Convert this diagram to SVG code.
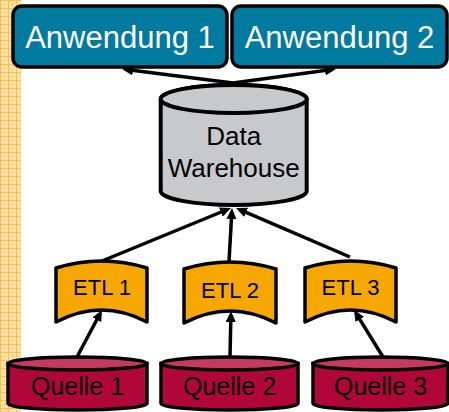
<svg xmlns="http://www.w3.org/2000/svg" width="449" height="412" viewBox="0 0 449 412">
<style>
.app{fill:#007a9e;stroke:#000;stroke-width:3.5}
.apptxt{font-family:"Liberation Sans",Arial,sans-serif;font-size:31px;fill:#fff;text-anchor:middle}
.dw{fill:#c7c9cc;stroke:#000;stroke-width:4}
.etl{fill:#f7a800;stroke:#000;stroke-width:3.5;stroke-linejoin:round}
.src{fill:#b1063a;stroke:#000;stroke-width:3.5}
.srctop{fill:#c43a62;stroke:#000;stroke-width:3.5}
.txt{font-family:"Liberation Sans",Arial,sans-serif;fill:#000;text-anchor:middle}
.conn line{stroke:#000;stroke-width:3.5;marker-end:url(#arr)}
</style>
<defs>
<marker id="arr" markerUnits="userSpaceOnUse" markerWidth="12" markerHeight="11" refX="7" refY="5" orient="auto">
<path d="M0,0 L11,5 L0,10 Z" fill="#000"/>
</marker>
<pattern id="grid" width="8" height="8" patternUnits="userSpaceOnUse">
<rect width="8" height="8" fill="#fde2a4"/>
<path d="M0,0.5 H8 M0.5,0 V8" stroke="#f5bd55" stroke-width="1"/>
<path d="M0,4.5 H8 M4.5,0 V8" stroke="#f9d27f" stroke-width="0.6"/>
</pattern>
</defs>
<rect x="0" y="0" width="21" height="412" fill="url(#grid)"/>

<g id="anwendung1">
<rect class="app" x="13" y="6" width="214" height="61" rx="9"/>
<text class="apptxt" x="120" y="48">Anwendung 1</text>
</g>
<g id="anwendung2">
<rect class="app" x="232" y="6" width="215" height="61" rx="9"/>
<text class="apptxt" x="339.5" y="48">Anwendung 2</text>
</g>

<g id="dw">
<path class="dw" d="M160.7,99 L160.7,191 A73,14 0 0 0 306.7,191 L306.7,99 A73,14 0 0 0 160.7,99 Z"/>
<ellipse class="dw" cx="233.7" cy="99" rx="73" ry="14"/>
<text class="txt" x="233.7" y="145" font-size="26">Data</text>
<text class="txt" x="233.7" y="177" font-size="26">Warehouse</text>
</g>

<g id="etl1">
<path class="etl" d="M56,268 Q101.5,254 147,268 L147,322 Q101.5,298 56,322 Z"/>
<text class="txt" x="102" y="295" font-size="22">ETL 1</text>
</g>
<g id="etl2">
<path class="etl" d="M184,269 Q230,255 276,269 L276,323 Q230,299 184,323 Z"/>
<text class="txt" x="230" y="298" font-size="22">ETL 2</text>
</g>
<g id="etl3">
<path class="etl" d="M305,268 Q350.5,254 396,268 L396,322 Q350.5,298 305,322 Z"/>
<text class="txt" x="350.5" y="295" font-size="22">ETL 3</text>
</g>

<g id="quelle1">
<path class="src" d="M8,363.5 L8,403.5 A69.5,6.5 0 0 0 147,403.5 L147,363.5 Z"/>
<ellipse class="srctop" cx="77.5" cy="363.5" rx="69.5" ry="6.5"/>
<text class="txt" x="77.5" y="395" font-size="25">Quelle 1</text>
</g>
<g id="quelle2">
<path class="src" d="M161,363.5 L161,403.5 A68.5,6.5 0 0 0 298,403.5 L298,363.5 Z"/>
<ellipse class="srctop" cx="229.5" cy="363.5" rx="68.5" ry="6.5"/>
<text class="txt" x="229.5" y="395" font-size="25">Quelle 2</text>
</g>
<g id="quelle3">
<path class="src" d="M313,363.5 L313,403.5 A67.5,6.5 0 0 0 448,403.5 L448,363.5 Z"/>
<ellipse class="srctop" cx="380.5" cy="363.5" rx="67.5" ry="6.5"/>
<text class="txt" x="380.5" y="395" font-size="25">Quelle 3</text>
</g>

<g id="connectors" class="conn">
<line x1="233" y1="83" x2="126" y2="69.5"/>
<line x1="233" y1="83" x2="332" y2="69.5"/>
<line x1="102" y1="261" x2="227.3" y2="209.5"/>
<line x1="229" y1="262" x2="231.8" y2="212"/>
<line x1="350" y1="257" x2="239.7" y2="209.6"/>
<line x1="77" y1="357" x2="100.1" y2="313.5"/>
<line x1="230" y1="357" x2="230.9" y2="315"/>
<line x1="383" y1="357" x2="356.1" y2="313.4"/>
</g>
</svg>
